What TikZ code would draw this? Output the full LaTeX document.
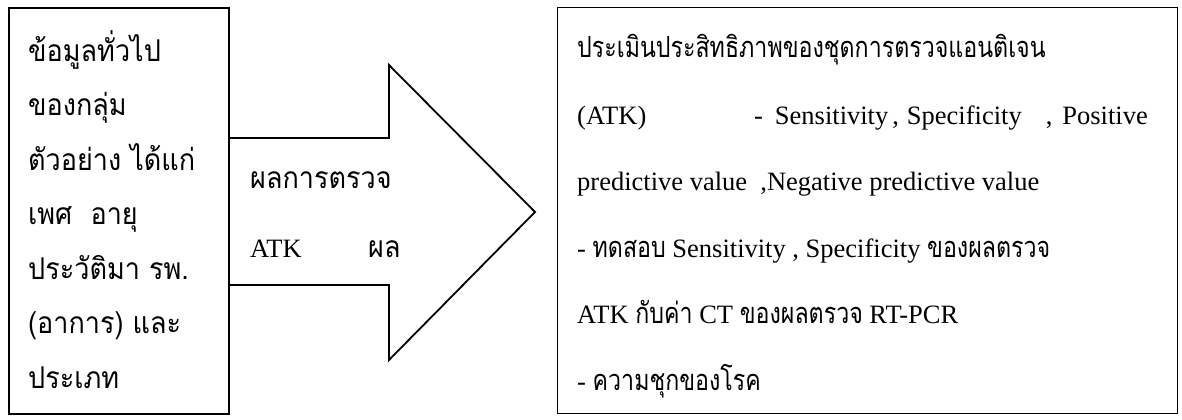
\documentclass[tikz,border=0pt]{standalone}
\usepackage{fontspec}
\setmainfont{Liberation Serif}
\newfontfamily\thaiL[Script=Thai,FakeStretch=0.9]{Loma}
\newfontfamily\thaiR[Script=Thai,FakeStretch=0.8]{Loma}
\newcommand{\TL}[1]{{\thaiL\fontsize{30bp}{35bp}\selectfont #1}}
\newcommand{\TR}[1]{{\thaiR\fontsize{29bp}{34bp}\selectfont #1}}
\begin{document}
\begin{tikzpicture}[x=1bp,y=-1bp]
\tikzset{
  txt/.style={anchor=base west, inner sep=0pt, font=\fontsize{26.5bp}{31bp}\selectfont},
  boxline/.style={draw, anchor=north west, inner sep=0pt},
  arrowline/.style={draw, line width=1.8bp, line join=miter}
}
\fill[white] (0,0) rectangle (1182,419);
\useasboundingbox (0,0) rectangle (1182,419);
% boxes
\node[boxline, line width=1.6bp, minimum width=220bp, minimum height=406bp] (left) at (8,7) {};
\node[boxline, line width=1.1bp, minimum width=620bp, minimum height=406bp] (right) at (557,7) {};
% big arrow
\coordinate (a1) at (228,138);
\coordinate (a2) at (389,138);
\coordinate (a3) at (389,65);
\coordinate (tip) at (535,212);
\coordinate (a5) at (389,360);
\coordinate (a6) at (389,285);
\coordinate (a7) at (228,285);
\draw[arrowline] (a1) -- (a2) -- (a3) -- (tip) -- (a5) -- (a6) -- (a7);
% left texts
\node[txt] (l1) at (28,61) {\TL{ข้อมูลทั่วไป}};
\node[txt] (l2) at (28,115.5) {\TL{ของกลุ่ม}};
\node[txt] (l3) at (28,170) {\TL{ตัวอย่าง ได้แก่}};
\node[txt] (l4) at (28,224.5) {\TL{เพศ\ \ อายุ}};
\node[txt] (l5) at (28,279) {\TL{ประวัติมา รพ.}};
\node[txt] (l6) at (28,333.5) {\TL{(อาการ) และ}};
\node[txt] (l7) at (28,388) {\TL{ประเภท}};
% middle texts
\node[txt] (m1) at (250,188) {\TL{ผลการตรวจ}};
\node[txt] (m2) at (250,257) {ATK};
\node[txt] (m3) at (368,257) {\TL{ผล}};
% right texts
\node[txt] (r1) at (577,57) {\TR{ประเมินประสิทธิภาพของชุดการตรวจแอนติเจน}};
\node[txt] (r2a) at (577,124) {(ATK)};
\node[txt, anchor=base east] (r2b) at (1148,124) {-\hspace{12bp}Sensitivity\hspace{4bp},\hspace{8bp}Specificity\hspace{24bp},\hspace{10bp}Positive};
\node[txt] (r3) at (577,190) {predictive value\ \ ,Negative predictive value};
\node[txt] (r4) at (577,257) {- \TR{ทดสอบ} Sensitivity , Specificity \TR{ของผลตรวจ}};
\node[txt] (r5) at (577,323) {ATK \TR{กับค่า} CT \TR{ของผลตรวจ} RT-PCR};
\node[txt] (r6) at (577,390) {- \TR{ความชุกของโรค}};
\end{tikzpicture}
\end{document}
